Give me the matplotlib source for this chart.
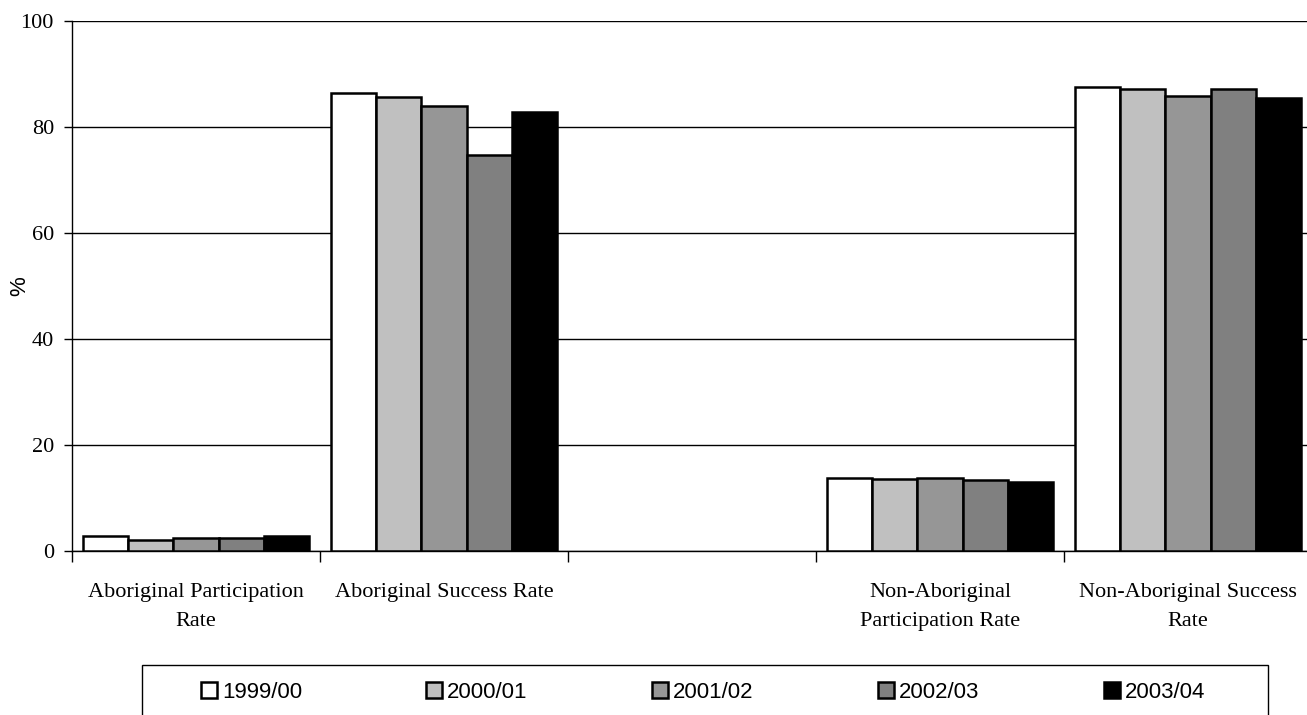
import matplotlib.pyplot as plt
import numpy as np
from matplotlib.patches import Rectangle

categories = ['Aboriginal Participation\nRate', 'Aboriginal Success Rate', '',
              'Non-Aboriginal\nParticipation Rate', 'Non-Aboriginal Success\nRate']
years = ['1999/00', '2000/01', '2001/02', '2002/03', '2003/04']
colors = ['#FFFFFF', '#C0C0C0', '#969696', '#808080', '#000000']

# values per year, one per category (empty category = no bar)
v1999 = [2.8, 86.4, np.nan, 13.7, 87.5]
v2000 = [2.0, 85.6, np.nan, 13.5, 87.1]
v2001 = [2.5, 83.9, np.nan, 13.7, 85.8]
v2002 = [2.5, 74.8, np.nan, 13.4, 87.1]
v2003 = [2.9, 82.8, np.nan, 13.0, 85.4]
series = [v1999, v2000, v2001, v2002, v2003]

fig = plt.figure(figsize=(13.07, 7.15), dpi=100)
ax = fig.add_axes([72/1307, 164/715, 1240/1307, 530/715])

x = np.arange(len(categories))
w = 0.182
for i, vals in enumerate(series):
    ax.bar(x + (i - 2) * w, vals, w, color=colors[i], edgecolor='black',
           linewidth=1.8, label=years[i], zorder=3)

ax.set_xlim(-0.5, len(categories) - 0.5)
ax.set_ylim(0, 100)
ax.set_yticks(range(0, 101, 20))
ax.yaxis.grid(True, color='black', linewidth=1)
ax.set_axisbelow(True)
for s in ['top', 'right']:
    ax.spines[s].set_visible(False)
ax.spines['left'].set_linewidth(1)
ax.spines['bottom'].set_linewidth(1)

ax.set_xticks(x)
ax.set_xticklabels(categories, fontfamily='Liberation Serif', fontsize=16,
                   linespacing=1.72)
ax.set_xticks(np.arange(-0.5, len(categories) + 0.5, 1), minor=True)
ax.tick_params(axis='x', which='major', length=0, pad=23)
ax.tick_params(axis='x', which='minor', length=8, width=1, direction='out')
ax.tick_params(axis='y', length=6, width=1, direction='out', pad=7)
for lbl in ax.get_yticklabels():
    lbl.set_fontfamily('Liberation Serif')
    lbl.set_fontsize(16)

ax.set_ylabel('%', fontfamily='Liberation Sans', fontsize=16)
ax.yaxis.set_label_coords(-0.034, 0.5)

# legend box (runs off the bottom edge)
fig.patches.append(Rectangle((142/1307, -0.05), 1126/1307, 0.05 + 50/715,
                             transform=fig.transFigure, fill=False,
                             edgecolor='black', linewidth=1))
leg = fig.legend(loc='center left', bbox_to_anchor=(181/1307, 23/715), ncol=5,
                 frameon=False, handlelength=0.72, handleheight=0.72,
                 handletextpad=0.22, columnspacing=5.6,
                 prop={'family': 'Liberation Sans', 'size': 16})

fig.savefig('out.png', dpi=100)
